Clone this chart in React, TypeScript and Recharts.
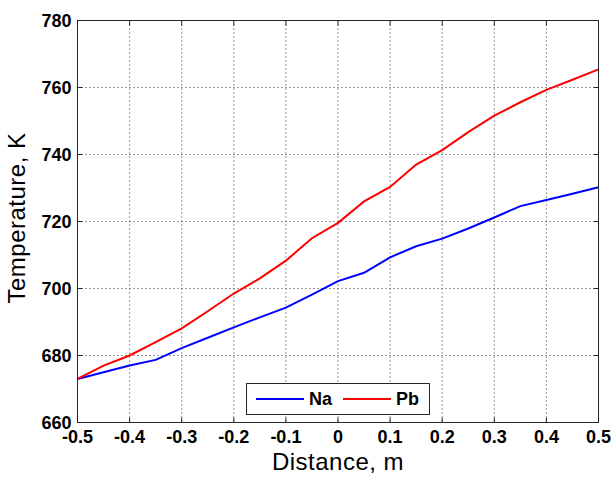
import React from 'react'
import { LineChart, Line, XAxis, YAxis, CartesianGrid, Legend } from 'recharts'

// distance along the channel, m
const distance = [
  -0.5, -0.45, -0.4, -0.35, -0.3, -0.25, -0.2, -0.15, -0.1, -0.05, 0,
  0.05, 0.1, 0.15, 0.2, 0.25, 0.3, 0.35, 0.4, 0.45, 0.5,
]
// temperature, K
const naTemp = [
  673, 675, 677, 678.7, 682.2, 685.3, 688.4, 691.4, 694.3, 698.2, 702.2,
  704.7, 709.3, 712.6, 714.9, 717.9, 721.2, 724.6, 726.4, 728.3, 730.2,
]
const pbTemp = [
  673, 677, 680, 684, 688.1, 693.2, 698.5, 703, 708.3, 715, 719.6,
  726, 730.3, 737, 741.3, 746.7, 751.6, 755.6, 759.3, 762.3, 765.4,
]
const xTicks = [-0.5, -0.4, -0.3, -0.2, -0.1, 0, 0.1, 0.2, 0.3, 0.4, 0.5]
const yTicks = [660, 680, 700, 720, 740, 760, 780]

const data = distance.map((x, i) => ({ x, Na: naTemp[i], Pb: pbTemp[i] }))

const FONT = '"Liberation Sans", Arial, Helvetica, sans-serif'
const AXIS = '#262626'
const TICK_LEN = 5

const fmtX = (v: number) => (v === 0 ? '0' : v.toFixed(1))

const BottomTick = (props: any) => {
  const { x, y, payload } = props
  return (
    <g>
      <line x1={x} y1={y} x2={x} y2={y - TICK_LEN} stroke={AXIS} />
      <text x={x} y={y + 20} textAnchor="middle" fontFamily={FONT} fontSize={18} fontWeight="bold" fill="#000">
        {fmtX(payload.value)}
      </text>
    </g>
  )
}

const LeftTick = (props: any) => {
  const { x, y, payload } = props
  return (
    <g>
      <line x1={x} y1={y} x2={x + TICK_LEN} y2={y} stroke={AXIS} />
      <text x={x - 6} y={y + 6.5} textAnchor="end" fontFamily={FONT} fontSize={18} fontWeight="bold" fill="#000">
        {payload.value}
      </text>
    </g>
  )
}

const TopTick = (props: any) => (
  <line x1={props.x} y1={props.y} x2={props.x} y2={props.y + TICK_LEN} stroke={AXIS} />
)

const RightTick = (props: any) => (
  <line x1={props.x} y1={props.y} x2={props.x - TICK_LEN} y2={props.y} stroke={AXIS} />
)

const XTitle = (props: any) => {
  const { viewBox } = props
  return (
    <text x={viewBox.x + viewBox.width / 2} y={470} textAnchor="middle" fontFamily={FONT} fontSize={24} letterSpacing={0.5} fill="#000">
      Distance, m
    </text>
  )
}

const YTitle = () => (
  <text x={25} y={218} transform="rotate(-90 25 218)" textAnchor="middle" fontFamily={FONT} fontSize={24} letterSpacing={0.5} fill="#000">
    Temperature, K
  </text>
)

const LegendBox = (props: any) => {
  const items = props.payload || []
  return (
    <div
      style={{
        boxSizing: 'border-box',
        width: 184,
        height: 32,
        border: `1px solid ${AXIS}`,
        background: '#fff',
        display: 'flex',
        alignItems: 'center',
        paddingLeft: 9,
        fontFamily: FONT,
        fontSize: 18,
        fontWeight: 'bold',
        color: '#000',
      }}
    >
      {items.map((entry: any, i: number) => (
        <div key={entry.value} style={{ display: 'flex', alignItems: 'center', marginLeft: i === 0 ? 0 : 11 }}>
          <svg width={48} height={4}>
            <line x1={0} y1={2} x2={48} y2={2} stroke={entry.color} strokeWidth={2} />
          </svg>
          <span style={{ marginLeft: 5 }}>{entry.value}</span>
        </div>
      ))}
    </div>
  )
}

export default function App() {
  return (
    <div style={{ position: 'absolute', left: 0, top: 0, width: 611, height: 477, background: '#fff' }}>
      <LineChart
        width={611}
        height={477}
        data={data}
        margin={{ top: 19.5, right: 11.5, bottom: 0.5, left: 0.5 }}
      >
        <CartesianGrid stroke="#333" strokeDasharray="1 3" />
        <XAxis
          dataKey="x"
          type="number"
          domain={[-0.5, 0.5]}
          ticks={xTicks}
          allowDataOverflow
          height={54}
          tickSize={0}
          tickMargin={0}
          tickLine={false}
          axisLine={{ stroke: AXIS }}
          tick={<BottomTick />}
          interval={0}
          label={<XTitle />}
        />
        <XAxis
          xAxisId="t"
          orientation="top"
          dataKey="x"
          type="number"
          domain={[-0.5, 0.5]}
          ticks={xTicks}
          allowDataOverflow
          height={1}
          tickSize={0}
          tickMargin={0}
          tickLine={false}
          axisLine={{ stroke: AXIS }}
          tick={<TopTick />}
          interval={0}
        />
        <YAxis
          type="number"
          domain={[660, 780]}
          ticks={yTicks}
          allowDataOverflow
          width={77}
          tickSize={0}
          tickMargin={0}
          tickLine={false}
          axisLine={{ stroke: AXIS }}
          tick={<LeftTick />}
          interval={0}
          label={<YTitle />}
        />
        <YAxis
          yAxisId="r"
          orientation="right"
          type="number"
          domain={[660, 780]}
          ticks={yTicks}
          allowDataOverflow
          width={1}
          tickSize={0}
          tickMargin={0}
          tickLine={false}
          axisLine={{ stroke: AXIS }}
          tick={<RightTick />}
          interval={0}
        />
        <Legend
          layout="horizontal"
          verticalAlign="middle"
          align="center"
          content={<LegendBox />}
          wrapperStyle={{ left: 246, top: 383, width: 184, height: 32 }}
        />
        <Line dataKey="Na" name="Na" stroke="#0000ff" strokeWidth={2} dot={false} isAnimationActive={false} />
        <Line dataKey="Pb" name="Pb" stroke="#ff0000" strokeWidth={2} dot={false} isAnimationActive={false} />
      </LineChart>
    </div>
  )
}
